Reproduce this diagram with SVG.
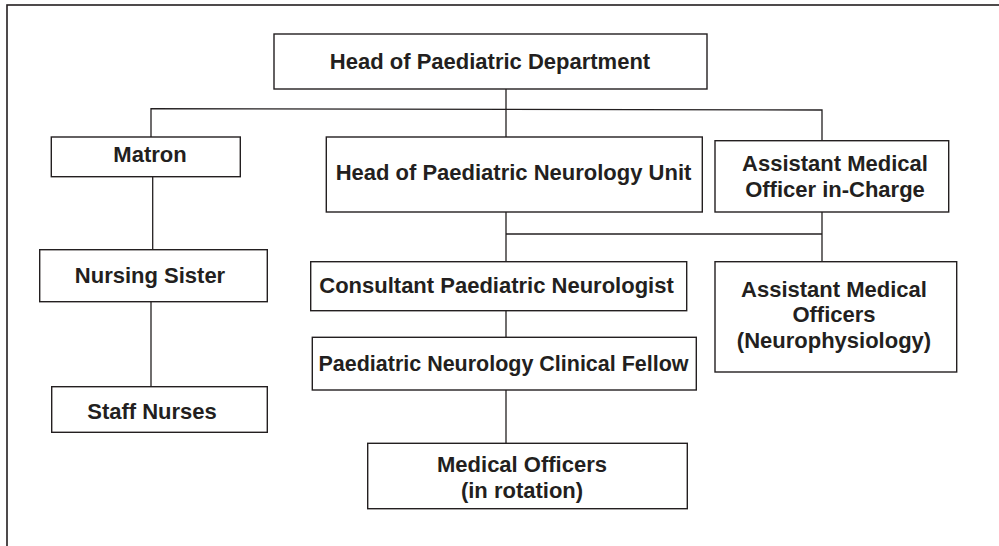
<svg xmlns="http://www.w3.org/2000/svg" width="999" height="546" viewBox="0 0 999 546">
<style>
.box{fill:#fff;stroke:#231f20;stroke-width:1.4}
.t{font-family:"Liberation Sans",Arial,sans-serif;font-weight:bold;font-size:22px;fill:#231f20;text-anchor:middle}
.c{fill:none;stroke:#231f20;stroke-width:1.3}
</style>
<rect x="0" y="0" width="999" height="546" fill="#fff"/>
<rect x="7" y="5" width="1010" height="600" fill="none" stroke="#231f20" stroke-width="1.6"/>
<g id="connectors" class="c">
<line x1="506" y1="89" x2="506" y2="137"/>
<polyline points="151,137 151,108.7 822,110 822,140.7"/>
<line x1="152.7" y1="177" x2="152.7" y2="249.7"/>
<line x1="151" y1="301.7" x2="151" y2="386.7"/>
<line x1="506" y1="212" x2="506" y2="261.7"/>
<line x1="506" y1="234" x2="822" y2="234"/>
<line x1="822" y1="212" x2="822" y2="261.7"/>
<line x1="506" y1="310.7" x2="506" y2="337.3"/>
<line x1="506" y1="390" x2="506" y2="443.3"/>
</g>
<g id="head-dept"><rect class="box" x="274" y="34" width="433" height="55"/><text class="t" x="490" y="69">Head of Paediatric Department</text></g>
<g id="matron"><rect class="box" x="51.3" y="137" width="189" height="39.7"/><text class="t" x="150" y="162">Matron</text></g>
<g id="nursing-sister"><rect class="box" x="39.7" y="249.7" width="227.6" height="52"/><text class="t" x="150" y="282.5">Nursing Sister</text></g>
<g id="staff-nurses"><rect class="box" x="51.7" y="386.7" width="215.6" height="45.6"/><text class="t" x="152" y="418.7">Staff Nurses</text></g>
<g id="head-neuro"><rect class="box" x="326.3" y="137" width="376" height="75"/><text class="t" x="513.5" y="180">Head of Paediatric Neurology Unit</text></g>
<g id="amo-in-charge"><rect class="box" x="715" y="140.7" width="233.7" height="71.3"/><text class="t" x="835" y="170.7">Assistant Medical</text><text class="t" x="835" y="196.7">Officer in-Charge</text></g>
<g id="consultant"><rect class="box" x="310.7" y="261.7" width="376" height="49"/><text class="t" x="496.5" y="292.7">Consultant Paediatric Neurologist</text></g>
<g id="fellow"><rect class="box" x="312.3" y="337.3" width="384" height="52.7"/><text class="t" x="503.5" y="371.3" textLength="370" lengthAdjust="spacingAndGlyphs">Paediatric Neurology Clinical Fellow</text></g>
<g id="medical-officers"><rect class="box" x="367.7" y="443.3" width="319.6" height="65.4"/><text class="t" x="522" y="471.7">Medical Officers</text><text class="t" x="522" y="497.7">(in rotation)</text></g>
<g id="amo-neurophys"><rect class="box" x="715" y="261.7" width="241.7" height="110.3"/><text class="t" x="834" y="297">Assistant Medical</text><text class="t" x="834" y="321.7">Officers</text><text class="t" x="834" y="347.7">(Neurophysiology)</text></g>
</svg>
